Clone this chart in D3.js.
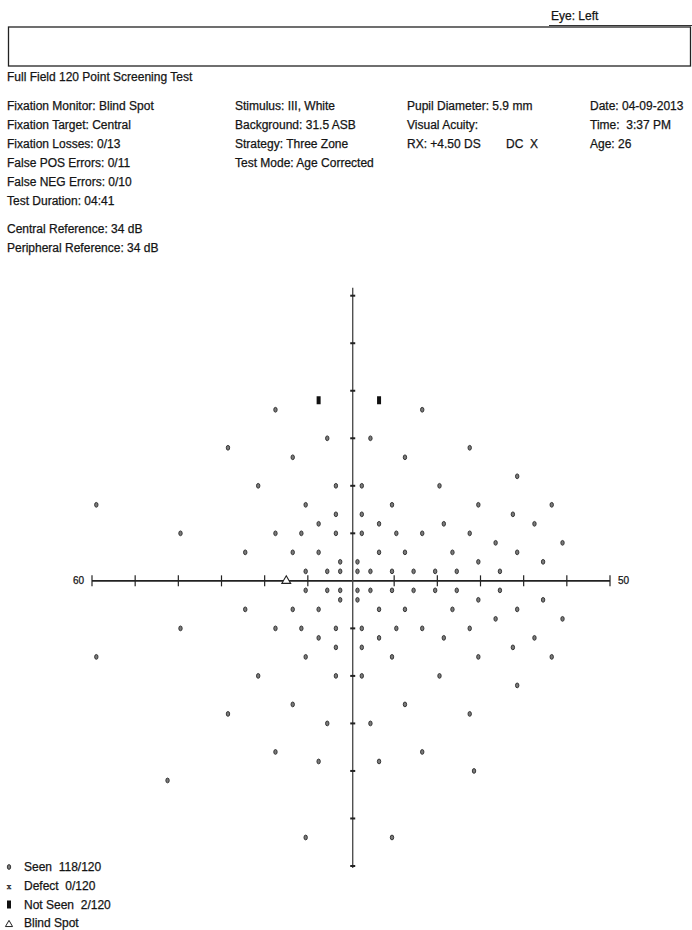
<body style="margin:0;background:#fff">
  <script src='https://d3js.org/d3.v7.min.js' charset='utf-8'></script>
  <script>

    var svgArea = { width: 692, height: 930 };

    // header texts
    var eyeLabel = 'Eye: Left';
    var testName = 'Full Field 120 Point Screening Test';
    var colA = ['Fixation Monitor: Blind Spot', 'Fixation Target: Central', 'Fixation Losses: 0/13',
      'False POS Errors: 0/11', 'False NEG Errors: 0/10', 'Test Duration: 04:41'];
    var colRef = ['Central Reference: 34 dB', 'Peripheral Reference: 34 dB'];
    var colB = ['Stimulus: III, White', 'Background: 31.5 ASB', 'Strategy: Three Zone', 'Test Mode: Age Corrected'];
    var colC = ['Pupil Diameter: 5.9 mm', 'Visual Acuity:', 'RX: +4.50 DS'];
    var colD = ['Date: 04-09-2013', 'Time:  3:37 PM', 'Age: 26'];

    // axis (degrees)
    var axisTicks = [-60, -50, -40, -30, -20, -10, 10, 20, 30, 40, 50, 60];
    var endLabels = ['60', '50'];

    // seen points, grouped by row: [y degrees, x degrees...]
    var seenRows = [
      [36, [-17.5, 16.5]],
      [30, [-5.5, 4.5]],
      [28, [-28.5, 27.5]],
      [26, [-13.5, 12.5]],
      [22, [38.5]],
      [20, [-21.5, -3.5, 2.5, 20.5]],
      [16, [-59, -10.5, 9.5, 29.5, 46.5]],
      [14, [-3.5, 2.5, 37.5]],
      [12, [-7.5, 6.5, 21.5, 42.5]],
      [10, [-39.5, -17.5, -11.5, -3.5, 2.5, 10.5, 16.5, 27.5]],
      [8, [33.5, 49]],
      [6, [-24.5, -13.5, -7.5, 6.5, 12.5, 23.5, 38.5]],
      [4, [-2.5, 1.5, 29.5, 44.5]],
      [2, [-10.5, -5.5, -2.5, 1.5, 4.5, 9.5, 14.5, 19.5, 24.5, 34.5]],
      [-2, [-10.5, -5.5, -2.5, 1.5, 4.5, 9.5, 14.5, 19.5, 24.5, 34.5]],
      [-4, [-2.5, 1.5, 29.5, 44.5]],
      [-6, [-24.5, -13.5, -7.5, 6.5, 12.5, 23.5, 38.5]],
      [-8, [33.5, 49]],
      [-10, [-39.5, -17.5, -11.5, -3.5, 2.5, 10.5, 16.5, 27.5]],
      [-12, [-7.5, 6.5, 21.5, 42.5]],
      [-14, [-3.5, 2.5, 37.5]],
      [-16, [-59, -10.5, 9.5, 29.5, 46.5]],
      [-20, [-21.5, -3.5, 2.5, 20.5]],
      [-22, [38.5]],
      [-26, [-13.5, 12.5]],
      [-28, [-28.5, 27.5]],
      [-30, [-5.5, 4.5]],
      [-36, [-17.5, 16.5]],
      [-38, [-7.5, 6.5]],
      [-40, [28.5]],
      [-42, [-42.5]],
      [-54, [-10.5, 9.5]]
    ];
    var notSeen = [[-7.5, 38], [6.5, 38]];
    var blindSpot = [-15, 0];

    var legendLabels = ['Seen  118/120', 'Defect  0/120', 'Not Seen  2/120', 'Blind Spot'];

    var seen = [];
    seenRows.forEach(function(r) {
      r[1].forEach(function(x) { seen.push([x, r[0]]); });
    });

    const svg = d3.select('body').append('svg')
      .attr('width', svgArea['width'])
      .attr('height', svgArea['height'])
      .style('font-family', '"Liberation Sans", Arial, sans-serif')
      .style('fill', '#151515');

    // scanned print looks a little heavy
    svg.append('style').text('text { stroke: #151515; stroke-width: 0.25px; white-space: pre; }');

    // header
    svg.append('text').attr('x', 551).attr('y', 20).attr('font-size', 12).text(eyeLabel);
    svg.append('line').attr('x1', 549).attr('x2', 692).attr('y1', 25.5).attr('y2', 25.5)
      .attr('stroke', '#333').attr('stroke-width', 1);
    svg.append('rect').attr('x', 8.5).attr('y', 27).attr('width', 682).attr('height', 39)
      .attr('fill', 'none').attr('stroke', '#222').attr('stroke-width', 1.3);
    svg.append('text').attr('x', 7).attr('y', 81).attr('font-size', 12).text(testName);

    function column(lines, x, y0) {
      svg.append('g').selectAll('text')
        .data(lines)
        .join('text')
          .attr('x', x)
          .attr('y', (d, i) => y0 + i * 19)
          .attr('font-size', 12)
          .text(d => d);
    }
    column(colA, 7, 109.5);
    column(colRef, 7, 233);
    column(colB, 235, 109.5);
    column(colC, 407, 109.5);
    column(colD, 590, 109.5);
    svg.append('text').attr('x', 506).attr('y', 147.5).attr('font-size', 12).text('DC  X');

    // scales
    var xScale = d3.scaleLinear().domain([-60, 60]).range([92, 610]);
    var yScale = d3.scaleLinear().domain([-60, 60]).range([866, 295.7]);
    var x0 = xScale(0.4), y0 = yScale(0);

    var axes = svg.append('g');
    axes.append('line')
      .attr('x1', xScale(-60)).attr('x2', xScale(60))
      .attr('y1', y0).attr('y2', y0)
      .attr('stroke', '#222').attr('stroke-width', 1.7);
    axes.append('line')
      .attr('x1', x0).attr('x2', x0)
      .attr('y1', yScale(60) - 8).attr('y2', yScale(-60) + 2)
      .attr('stroke', '#444').attr('stroke-width', 1.3);
    axes.selectAll('.xt')
      .data(axisTicks)
      .join('line')
        .attr('class', 'xt')
        .attr('x1', d => xScale(d)).attr('x2', d => xScale(d))
        .attr('y1', y0 - 5.5).attr('y2', y0 + 5.5)
        .attr('stroke', '#222').attr('stroke-width', 1.2);
    axes.selectAll('.yt')
      .data(axisTicks)
      .join('line')
        .attr('class', 'yt')
        .attr('x1', x0 - 2.5).attr('x2', x0 + 2.5)
        .attr('y1', d => yScale(d)).attr('y2', d => yScale(d))
        .attr('stroke', '#222').attr('stroke-width', 2);
    axes.append('text').attr('x', xScale(-60) - 8).attr('y', y0 + 3.5)
      .attr('text-anchor', 'end').attr('font-size', 10).text(endLabels[0]);
    axes.append('text').attr('x', xScale(60) + 8).attr('y', y0 + 3.5)
      .attr('font-size', 10).text(endLabels[1]);

    // seen points
    svg.append('g')
      .selectAll('ellipse')
      .data(seen)
      .join('ellipse')
        .attr('cx', d => xScale(d[0]))
        .attr('cy', d => yScale(d[1]))
        .attr('rx', 1.7).attr('ry', 2.4)
        .attr('fill', '#7a7a7a')
        .attr('stroke', '#2a2a2a').attr('stroke-width', 0.9);

    // not seen
    svg.append('g')
      .selectAll('rect')
      .data(notSeen)
      .join('rect')
        .attr('x', d => xScale(d[0]) - 2)
        .attr('y', d => yScale(d[1]) - 4)
        .attr('width', 4).attr('height', 8)
        .attr('fill', '#111');

    // blind spot
    var tri = d3.symbol().type(d3.symbolTriangle).size(34);
    svg.append('path')
      .attr('d', tri())
      .attr('transform', 'translate(' + xScale(blindSpot[0]) + ',' + yScale(blindSpot[1]) + ')')
      .attr('fill', '#fff').attr('stroke', '#222').attr('stroke-width', 1.1);

    // legend
    var leg = svg.append('g');
    leg.selectAll('text')
      .data(legendLabels)
      .join('text')
        .attr('x', 24)
        .attr('y', (d, i) => 871 + i * 18.8)
        .attr('font-size', 12)
        .text(d => d);
    leg.append('ellipse').attr('cx', 9).attr('cy', 867).attr('rx', 1.7).attr('ry', 2.4)
      .attr('fill', '#7a7a7a').attr('stroke', '#2a2a2a').attr('stroke-width', 0.9);
    leg.append('text').attr('x', 9).attr('y', 889).attr('text-anchor', 'middle')
      .attr('font-size', 8).attr('font-family', 'DejaVu Serif').text('x');
    leg.append('rect').attr('x', 7).attr('y', 900.5).attr('width', 4).attr('height', 8).attr('fill', '#111');
    leg.append('path').attr('d', d3.symbol().type(d3.symbolTriangle).size(22)())
      .attr('transform', 'translate(9,924.5)')
      .attr('fill', '#fff').attr('stroke', '#222').attr('stroke-width', 1);
  </script>
</body>
